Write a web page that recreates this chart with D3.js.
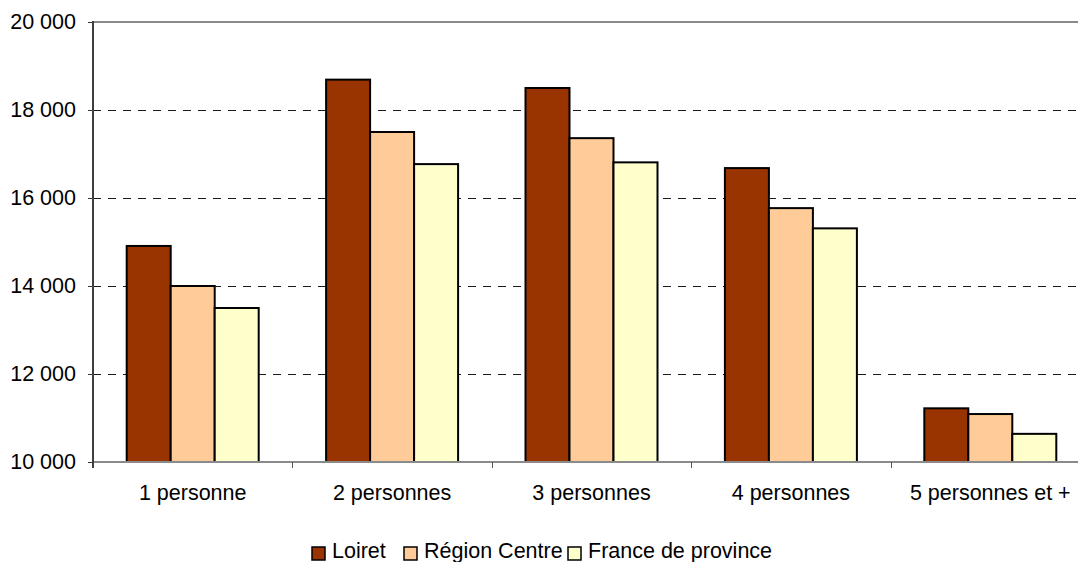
<!DOCTYPE html>
<html>
<head>
<meta charset="utf-8">
<script src="https://cdn.jsdelivr.net/npm/d3@7"></script>
<style>
  html, body { margin: 0; padding: 0; background: #fff; }
  svg { display: block; font-family: "Liberation Sans", Arial, sans-serif; }
</style>
</head>
<body>
<svg id="chart" width="1078" height="562"></svg>
<script>
// Niveau de vie selon la taille du ménage
const categories = ["1 personne", "2 personnes", "3 personnes", "4 personnes", "5 personnes et +"];
const seriesNames = ["Loiret", "Région Centre", "France de province"];
const loiret = [14910, 18690, 18500, 16680, 11220];
const regionCentre = [14000, 17500, 17360, 15770, 11090];
const franceProvince = [13500, 16770, 16810, 15310, 10640];
const yTicks = [10000, 12000, 14000, 16000, 18000, 20000];
const colors = ["#993300", "#FFCC99", "#FFFFCC"];

const values = [loiret, regionCentre, franceProvince];
const FONT = 21.5;

const svg = d3.select("#chart");
const plot = { left: 93, top: 22, right: 1090, bottom: 462 };

const x = d3.scaleBand().domain(categories).range([plot.left, plot.right]).paddingInner(0).paddingOuter(0);
const xs = d3.scaleBand().domain(seriesNames).range([0, x.bandwidth()]).paddingInner(0).paddingOuter(0.766);
const y = d3.scaleLinear().domain([10000, 20000]).range([plot.bottom, plot.top]);

const fmt = v => d3.format(",")(v).replace(/,/g, " ");

// Gridlines (dashed)
svg.append("g")
  .selectAll("line")
  .data(yTicks.filter(t => t > 10000 && t < 20000))
  .join("line")
  .attr("x1", plot.left).attr("x2", plot.right)
  .attr("y1", d => y(d)).attr("y2", d => y(d))
  .attr("stroke", "#1a1a1a").attr("stroke-width", 1)
  .attr("stroke-dasharray", "8,7")
  .attr("shape-rendering", "crispEdges");

// Top border of plot area
svg.append("line")
  .attr("x1", plot.left).attr("x2", plot.right)
  .attr("y1", y(20000)).attr("y2", y(20000))
  .attr("stroke", "#8a8a8a").attr("stroke-width", 2);

// Bars
const groups = svg.append("g")
  .selectAll("g")
  .data(seriesNames)
  .join("g")
  .attr("fill", (d, i) => colors[i]);

groups.selectAll("rect")
  .data((s, i) => categories.map((c, j) => ({ s, c, v: values[i][j] })))
  .join("rect")
  .attr("x", d => x(d.c) + xs(d.s))
  .attr("y", d => y(d.v))
  .attr("width", xs.bandwidth())
  .attr("height", d => y(10000) - y(d.v))
  .attr("stroke", "#000")
  .attr("stroke-width", 2);

// X axis
svg.append("line")
  .attr("x1", plot.left).attr("x2", plot.right)
  .attr("y1", plot.bottom).attr("y2", plot.bottom)
  .attr("stroke", "#8a8a8a").attr("stroke-width", 2);
// category separators
const bounds = categories.map(c => x(c)).concat([x(categories[categories.length - 1]) + x.bandwidth()]);
svg.append("g").selectAll("line")
  .data(bounds)
  .join("line")
  .attr("x1", d => Math.round(d) + 0.5).attr("x2", d => Math.round(d) + 0.5)
  .attr("y1", plot.bottom).attr("y2", plot.bottom + 6)
  .attr("stroke", "#555").attr("stroke-width", 1);
// category labels
svg.append("g").selectAll("text")
  .data(categories)
  .join("text")
  .attr("x", d => x(d) + x.bandwidth() / 2)
  .attr("y", 500)
  .attr("text-anchor", "middle")
  .attr("font-size", FONT)
  .attr("fill", "#000")
  .text(d => d);

// Y axis
const yAxis = d3.axisLeft(y).tickValues(yTicks).tickSize(5).tickPadding(12).tickFormat(fmt);
const gy = svg.append("g").attr("transform", `translate(${plot.left},0)`).call(yAxis);
gy.select(".domain").remove();
gy.selectAll(".tick line").attr("stroke", "#333");
gy.selectAll(".tick text").attr("font-size", FONT).attr("fill", "#000")
  .attr("font-family", "Liberation Sans, Arial, sans-serif");
svg.append("line")
  .attr("x1", plot.left).attr("x2", plot.left)
  .attr("y1", plot.top - 1).attr("y2", plot.bottom + 6)
  .attr("stroke", "#404040").attr("stroke-width", 2);

// Legend
const legendX = [312, 404, 568];
const legend = svg.append("g").selectAll("g")
  .data(seriesNames)
  .join("g")
  .attr("transform", (d, i) => `translate(${legendX[i]},547)`);
legend.append("rect")
  .attr("width", 13).attr("height", 13)
  .attr("fill", (d, i) => colors[i])
  .attr("stroke", "#000").attr("stroke-width", 1.5);
legend.append("text")
  .attr("x", 20).attr("y", 11)
  .attr("font-size", FONT)
  .attr("fill", "#000")
  .text(d => d);
</script>
</body>
</html>
